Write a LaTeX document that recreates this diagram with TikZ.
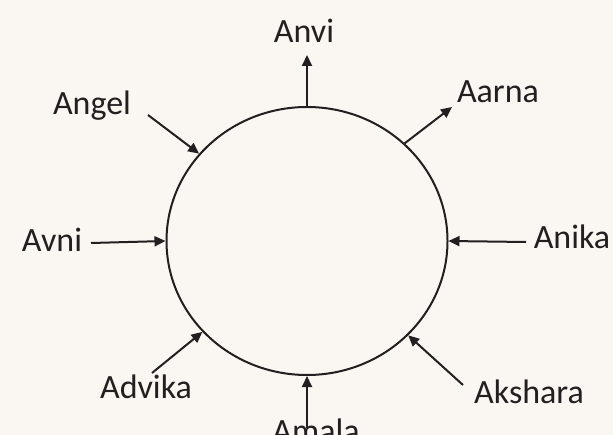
\documentclass[tikz,border=0pt]{standalone}
\usepackage{fontspec}
\setmainfont{Carlito}
\usetikzlibrary{arrows.meta, shapes.geometric}
\definecolor{colBg}{RGB}{250,247,242}
\definecolor{colInk}{RGB}{35,31,32}
\tikzset{
  hub/.style={
    ellipse, draw=colInk, line width=2bp,
    minimum width=281bp, minimum height=268bp, inner sep=0pt
  },
  who/.style={font=\fontsize{34bp}{40bp}\selectfont, text=colInk, inner sep=0pt, anchor=base},
  arr/.style={
    -{Triangle[length=11bp, width=10bp]}, line width=2bp, draw=colInk
  }
}

\begin{document}
\begin{tikzpicture}[x=1bp, y=-1bp]

  \clip (0,0) rectangle (613,435);
  \fill[colBg] (0,0) rectangle (613,435);

  \node[hub] (hub) at (307,241) {};

  % labels
  \node[who] (anvi) at (304,43) {Anvi};
  \node[who] (aarna) at (498,103) {Aarna};
  \node[who] (angel) at (92,115) {Angel};
  \node[who] (avni) at (52,252) {Avni};
  \node[who] (anika) at (572,249) {Anika};
  \node[who] (akshara) at (529,403) {Akshara};
  \node[who] (advika) at (146,398) {Advika};
  \node[who] (amala) at (316,442) {Amala};

  % free ends of the arrows
  \coordinate (anviEnd) at (307,55);
  \coordinate (aarnaEnd) at (452,107);
  \coordinate (angelEnd) at (148,115);
  \coordinate (avniEnd) at (91,243);
  \coordinate (anikaEnd) at (526,242);
  \coordinate (aksharaEnd) at (463,385);
  \coordinate (advikaEnd) at (152,373);
  \coordinate (amalaEnd) at (307,428);

  % out of the circle
  \draw[arr] (hub.90) -- (anviEnd);
  \draw[arr] (hub.45) -- (aarnaEnd);

  % into the circle
  \draw[arr] (angelEnd) -- (hub.141);
  \draw[arr] (avniEnd) -- (hub.180);
  \draw[arr] (anikaEnd) -- (hub.0);
  \draw[arr] (aksharaEnd) -- (hub.-43);
  \draw[arr] (advikaEnd) -- (hub.-139);
  \draw[arr] (amalaEnd) -- (hub.-90);

\end{tikzpicture}
\end{document}
